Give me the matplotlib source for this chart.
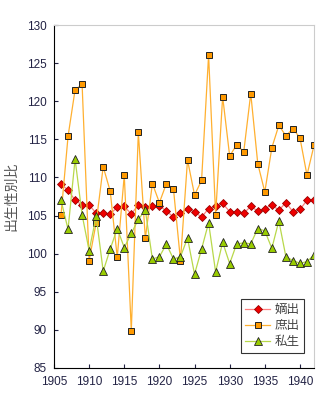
import matplotlib
matplotlib.use('Agg')
import matplotlib.pyplot as plt

plt.rcParams['font.family'] = ['Noto Sans CJK JP', 'DejaVu Sans']

years = list(range(1906, 1943))

# 嫡出
legit = [109.1, 108.35, 107.0, 106.4, 106.4, 105.3, 105.3, 105.2, 106.1, 106.2,
         105.2, 106.4, 106.1, 106.25, 106.25, 105.6, 104.8, 105.3, 105.9, 105.5,
         104.8, 105.9, 106.2, 106.6, 105.5, 105.5, 105.3, 106.2, 105.6, 105.9,
         106.4, 105.7, 106.7, 105.5, 105.8, 107.0, 107.0]
# 庶出
shoshutsu = [105.1, 115.4, 121.5, 122.2, 99.1, 104.05, 111.4, 108.2, 99.5, 110.3,
             89.9, 115.9, 102.0, 109.2, 106.7, 109.2, 108.5, 99.1, 112.3, 107.7,
             109.6, 126.05, 105.1, 120.6, 112.8, 114.3, 113.35, 121.0, 111.8, 108.1,
             113.9, 116.85, 115.45, 116.4, 115.2, 110.3, 114.2]
# 私生
shisei = [107.0, 103.2, 112.4, 105.1, 100.4, 104.9, 97.7, 100.6, 103.3, 100.8,
          102.65, 104.5, 105.7, 99.3, 99.6, 101.25, 99.3, 99.6, 102.05, 97.3,
          100.6, 104.05, 97.6, 101.5, 98.7, 101.3, 101.4, 101.3, 103.3, 103.0,
          100.7, 104.3, 99.6, 99.1, 98.75, 98.95, 99.85]

labels = ['嫡出', '庶出', '私生']

fig = plt.figure(figsize=(3.23, 3.93), dpi=100)
ax = fig.add_axes([54/323, 25/393, 260/323, 343/393])

ax.plot(years, legit, color='#ff8080', lw=0.9, marker='D', ms=4.5,
        mfc='#ee0000', mec='#990000', mew=0.6, label=labels[0])
ax.plot(years, shoshutsu, color='#ffb030', lw=0.9, marker='s', ms=4.3,
        mfc='#ff9900', mec='#222222', mew=0.7, label=labels[1])
ax.plot(years, shisei, color='#b8d84a', lw=0.9, marker='^', ms=5.2,
        mfc='#99cc00', mec='#222222', mew=0.6, label=labels[2])

ax.set_xlim(1905, 1942)
ax.set_ylim(85, 130)
ax.set_xticks(range(1905, 1945, 5))
ax.set_yticks(range(85, 135, 5))
ax.tick_params(direction='in', length=3, labelsize=8.5, colors='#222244',
               labelcolor='#222244')
ax.tick_params(axis='x', pad=6)
ax.tick_params(axis='y', pad=5)
for lab in ax.get_xticklabels() + ax.get_yticklabels():
    lab.set_family('Liberation Sans')
for s in ['top', 'right']:
    ax.spines[s].set_color('#cccccc')
for s in ['left', 'bottom']:
    ax.spines[s].set_color('black')

ax.set_ylabel('出生性別比', fontsize=10, color='#555555', labelpad=6)

leg = ax.legend(loc='lower right', bbox_to_anchor=(0.96, 0.045), fontsize=9,
                frameon=True, fancybox=False, edgecolor='black',
                handlelength=2.0, borderpad=0.35, labelspacing=0.25,
                handletextpad=0.3, borderaxespad=0, labelcolor='#444444')
leg.get_frame().set_linewidth(0.8)

fig.savefig('out.png', dpi=100)
